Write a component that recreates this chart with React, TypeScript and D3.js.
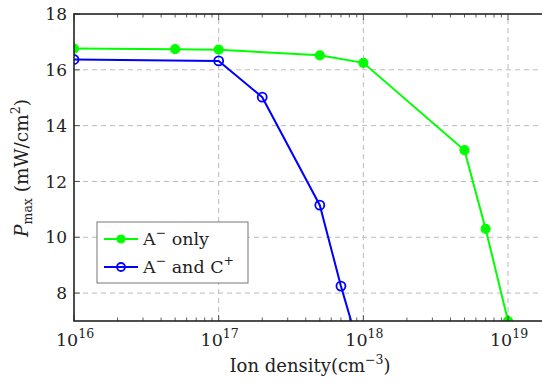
import * as d3 from 'd3';
import React from 'react';

// ion density (cm^-3) and P_max (mW/cm^2)
const greenX = [1e16, 5e16, 1e17, 5e17, 1e18, 5e18, 7e18, 1e19];
const greenY = [16.76, 16.74, 16.72, 16.52, 16.25, 13.12, 10.3, 7.0];
const blueX = [1e16, 1e17, 2e17, 5e17, 7e17, 1e18];
const blueY = [16.37, 16.32, 15.02, 11.15, 8.25, 5.5];
const yTicks = [8, 10, 12, 14, 16, 18];
const xMajor = [1e16, 1e17, 1e18, 1e19];
const xExp = ['16', '17', '18', '19'];
const legendLabels = [['A', '−', ' only', ''], ['A', '−', ' and C', '+']];

const W = 542;
const H = 383;
const m = { left: 74, right: 1, top: 14, bottom: 62 };
const FONT = 'DejaVu Serif';

export default function App() {
  const x = d3
    .scaleLog()
    .domain([1e16, 1.69e19])
    .range([m.left, W - m.right]);
  const y = d3
    .scaleLinear()
    .domain([7, 18])
    .range([H - m.bottom, m.top]);

  const line = d3
    .line<[number, number]>()
    .x((d) => x(d[0]))
    .y((d) => y(d[1]));

  const green: [number, number][] = greenX.map((v, i) => [v, greenY[i]]);
  const blue: [number, number][] = blueX.map((v, i) => [v, blueY[i]]);

  const minor: number[] = [];
  for (let e = 16; e <= 19; e++) {
    for (let k = 2; k <= 9; k++) {
      const v = k * Math.pow(10, e);
      if (v < 1.69e19) minor.push(v);
    }
  }

  const x0 = m.left;
  const x1 = W - m.right;
  const y0 = H - m.bottom;
  const y1 = m.top;

  return (
    <svg
      width={W}
      height={H}
      fontFamily={FONT}
      style={{ position: 'absolute', left: 0, top: 0 }}
    >
      <defs>
        <clipPath id="plotclip">
          <rect x={x0} y={y1} width={x1 - x0} height={y0 - y1} />
        </clipPath>
      </defs>
      <rect width={W} height={H} fill="white" />

      {/* grid */}
      {xMajor.slice(1).map((v) => (
        <line
          key={'gx' + v}
          x1={x(v)}
          x2={x(v)}
          y1={y0}
          y2={y1}
          stroke="#bbb"
          strokeDasharray="5,4"
        />
      ))}
      {yTicks.slice(0, -1).map((v) => (
        <line
          key={'gy' + v}
          x1={x0}
          x2={x1}
          y1={y(v)}
          y2={y(v)}
          stroke="#bbb"
          strokeDasharray="5,4"
        />
      ))}

      {/* series */}
      <g clipPath="url(#plotclip)">
        <path d={line(green) || ''} fill="none" stroke="#00ff00" strokeWidth={2} />
        <path d={line(blue) || ''} fill="none" stroke="#0000ff" strokeWidth={2} />
        {green.map((d, i) => (
          <g key={'gm' + i}>
            <circle cx={x(d[0])} cy={y(d[1])} r={4.5} fill="#00ff00" stroke="#00ff00" strokeWidth={1.2} />
            <circle cx={x(d[0])} cy={y(d[1])} r={1} fill="#33cc33" />
          </g>
        ))}
        {blue.map((d, i) => (
          <circle
            key={'bm' + i}
            cx={x(d[0])}
            cy={y(d[1])}
            r={4.5}
            fill="none"
            stroke="#0000ff"
            strokeWidth={1.8}
          />
        ))}
      </g>

      {/* ticks */}
      {minor.map((v) => (
        <g key={'mt' + v} stroke="#333" strokeWidth={0.8}>
          <line x1={x(v)} x2={x(v)} y1={y0} y2={y0 - 3.5} />
          <line x1={x(v)} x2={x(v)} y1={y1} y2={y1 + 3.5} />
        </g>
      ))}
      {xMajor.map((v) => (
        <g key={'Mt' + v} stroke="#333" strokeWidth={0.8}>
          <line x1={x(v)} x2={x(v)} y1={y0} y2={y0 - 6} />
          <line x1={x(v)} x2={x(v)} y1={y1} y2={y1 + 6} />
        </g>
      ))}
      {yTicks.map((v) => (
        <line key={'yt' + v} x1={x0} x2={x0 + 6} y1={y(v)} y2={y(v)} stroke="#333" strokeWidth={0.8} />
      ))}

      {/* frame */}
      <rect x={x0} y={y1} width={x1 - x0 + 2} height={y0 - y1} fill="none" stroke="#222" strokeWidth={1.6} />

      {/* tick labels */}
      {yTicks.map((v) => (
        <text key={'yl' + v} x={x0 - 7} y={y(v)} dy="0.36em" textAnchor="end" fontSize={17} fill="#222">
          {v}
        </text>
      ))}
      {xMajor.map((v, i) => (
        <text key={'xl' + v} x={x(v) + 1} y={y0 + 25} textAnchor="middle" fontSize={17.5} fill="#222">
          10
          <tspan dy={-8} fontSize={12.5}>
            {xExp[i]}
          </tspan>
        </text>
      ))}

      {/* axis labels */}
      <text x={310} y={372} textAnchor="middle" fontSize={18} fill="#222">
        Ion density(cm
        <tspan dy={-8} fontSize={12.5}>
          −3
        </tspan>
        <tspan dy={8}>)</tspan>
      </text>
      <text transform="translate(28,168) rotate(-90)" textAnchor="middle" fontSize={18.5} fill="#222">
        <tspan fontStyle="italic">P</tspan>
        <tspan dy={4} fontSize={12.5}>
          max
        </tspan>
        <tspan dy={-4}> (mW/cm</tspan>
        <tspan dy={-8} fontSize={12.5}>
          2
        </tspan>
        <tspan dy={8}>)</tspan>
      </text>

      {/* legend */}
      <g>
        <rect x={97} y={222} width={151} height={61} fill="white" stroke="#777" strokeWidth={1} />
        {legendLabels.map((lab, i) => {
          const ly = 239 + i * 28;
          const col = i === 0 ? '#00ff00' : '#0000ff';
          return (
            <g key={'lg' + i}>
              <line x1={104} x2={138} y1={ly} y2={ly} stroke={col} strokeWidth={2} />
              <circle
                cx={121}
                cy={ly}
                r={4}
                fill={i === 0 ? col : 'none'}
                stroke={col}
                strokeWidth={i === 0 ? 1.2 : 1.8}
              />
              <text x={143} y={ly} dy="0.36em" fontSize={17.5} fill="#222">
                {lab[0]}
                <tspan dy={-8} fontSize={12.5}>
                  {lab[1]}
                </tspan>
                <tspan dy={8}>{lab[2]}</tspan>
                {lab[3] ? (
                  <tspan dy={-8} fontSize={12.5}>
                    {lab[3]}
                  </tspan>
                ) : null}
              </text>
            </g>
          );
        })}
      </g>
    </svg>
  );
}
